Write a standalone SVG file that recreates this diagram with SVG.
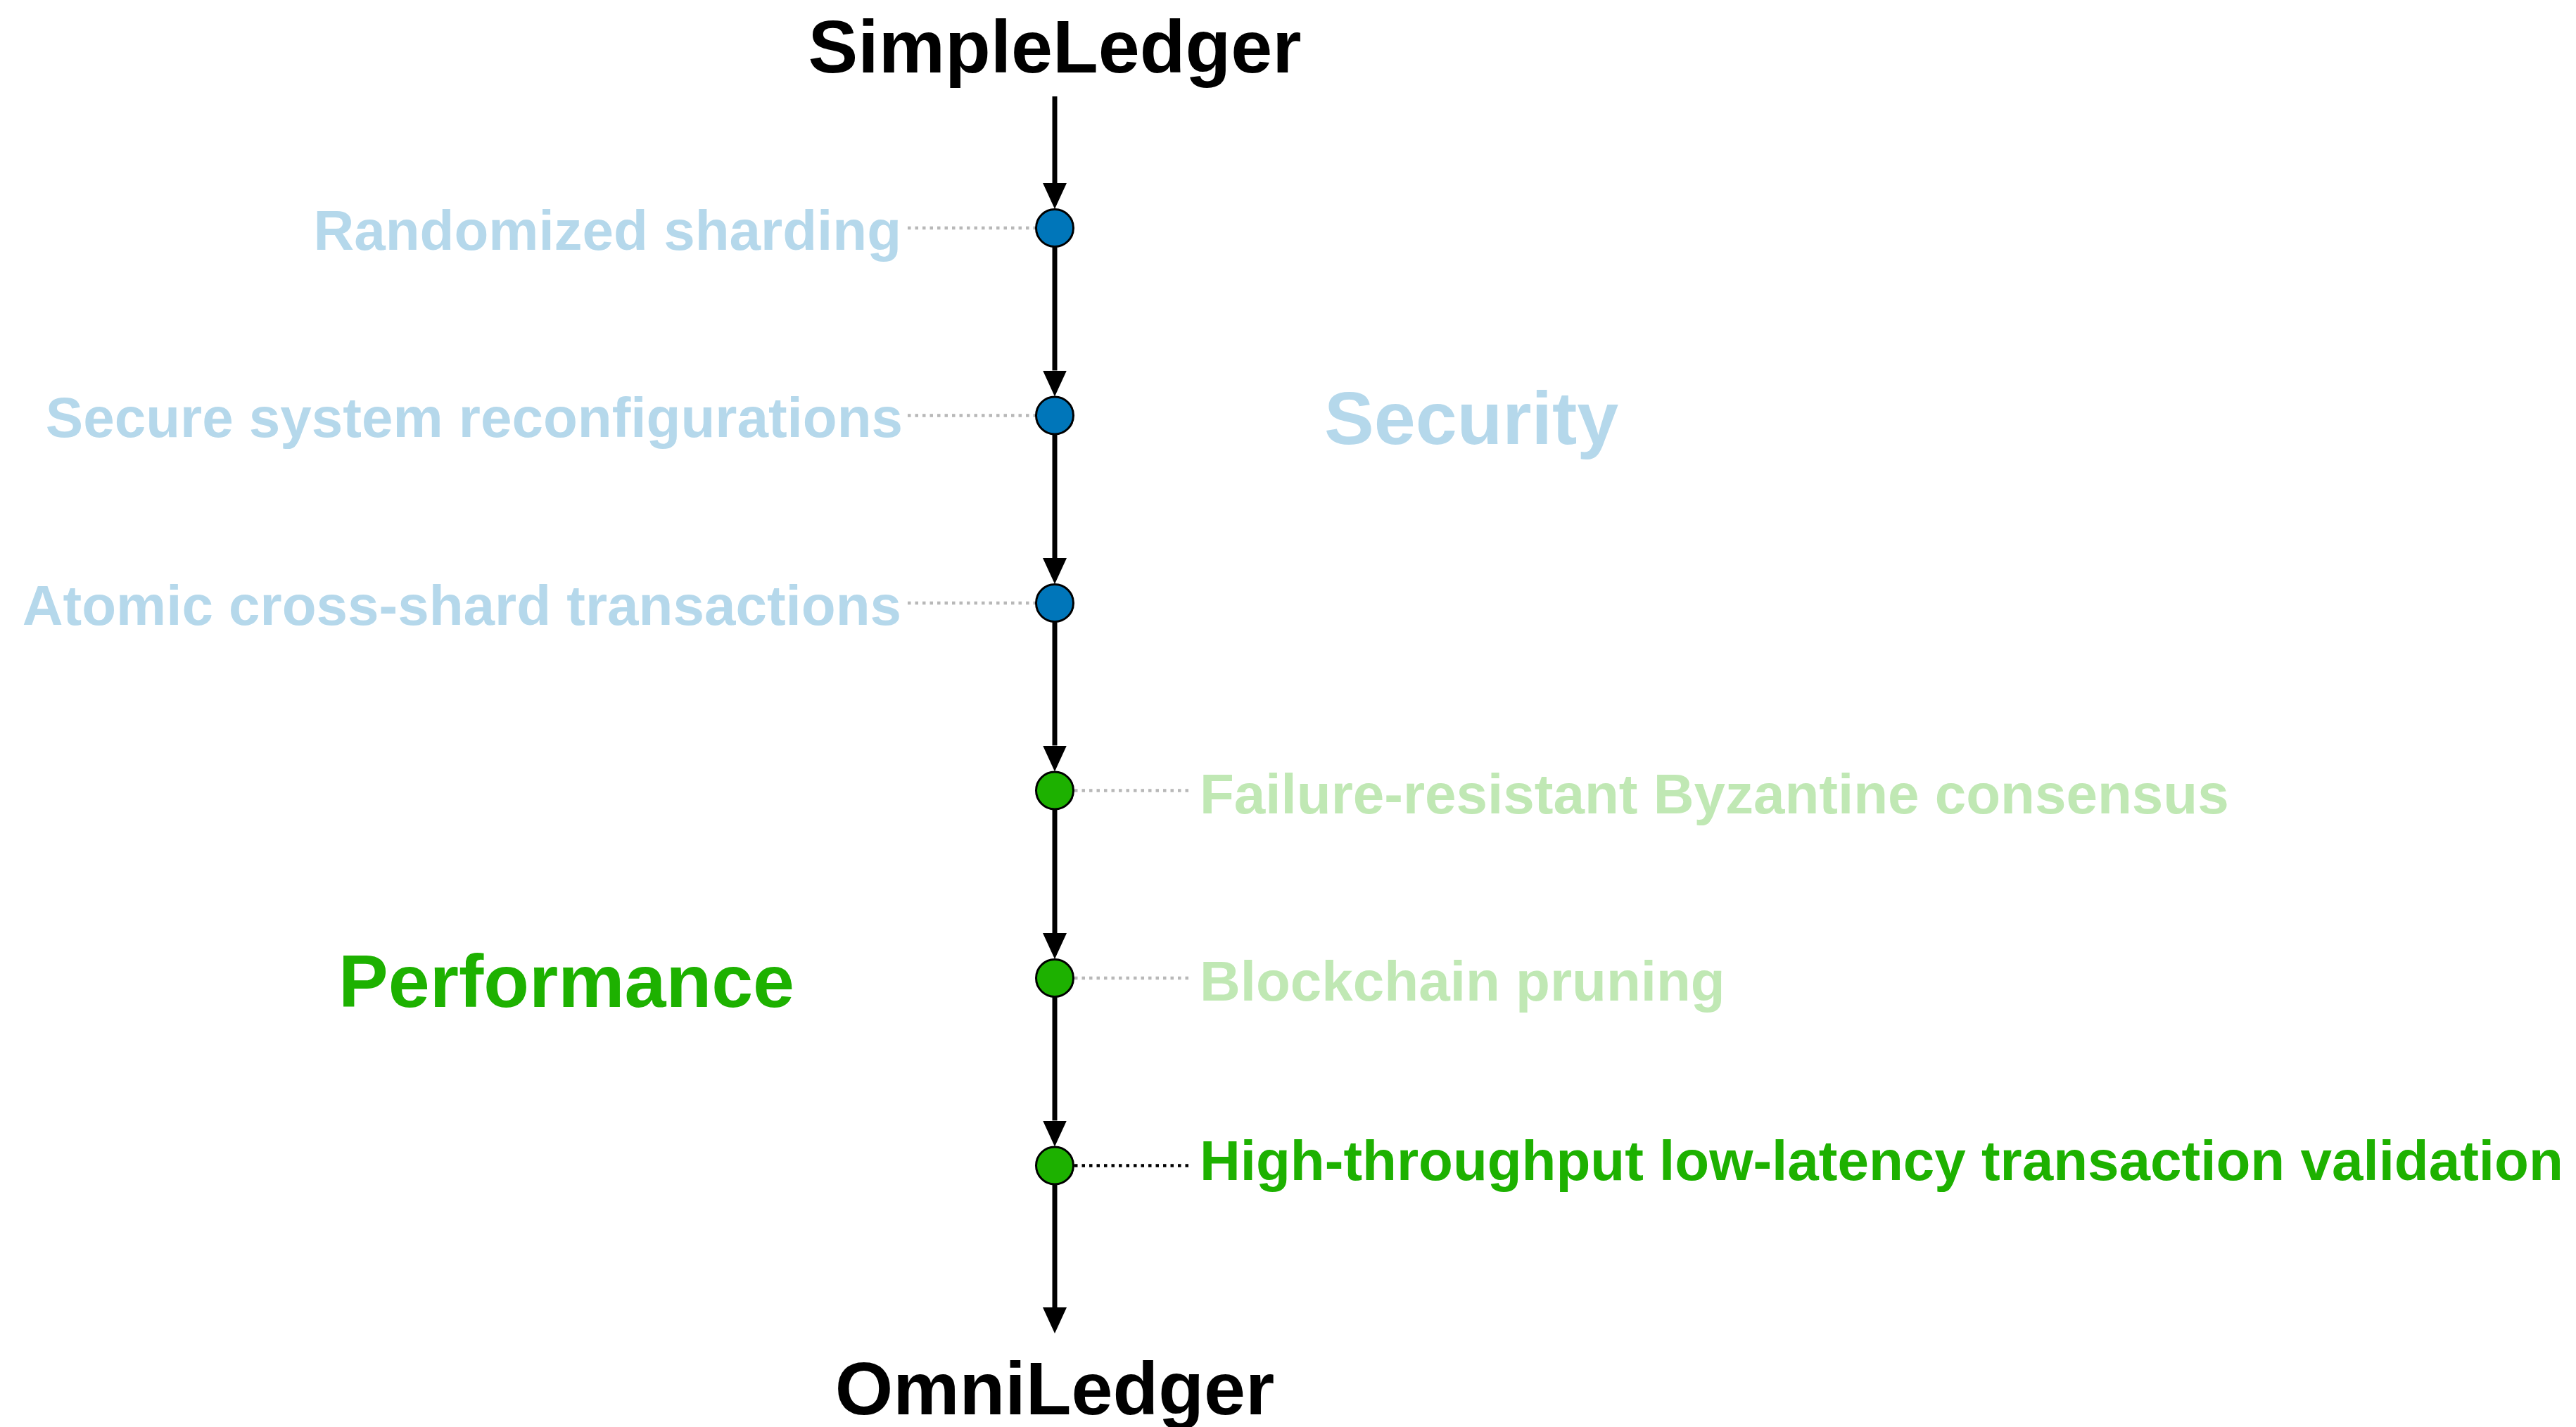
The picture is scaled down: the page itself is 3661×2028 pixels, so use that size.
<svg xmlns="http://www.w3.org/2000/svg" width="3661" height="2028" viewBox="0 0 3661 2028">
<style>
text{font-family:"Liberation Sans",Arial,Helvetica,sans-serif;font-weight:bold}
.title{font-size:106px;fill:#000;text-anchor:middle}
.lab{font-size:80px}
.sec{fill:#B5D8EB}
.perfl{fill:#C0E8B4}
.perf{fill:#1DB100}
.big{font-size:106px}
.flow{stroke:#000;stroke-width:7;fill:none}
.dot{stroke:#B8B8B8;stroke-width:4.5;stroke-dasharray:4.5 6;fill:none}
.dotk{stroke:#000;stroke-width:4.5;stroke-dasharray:4.5 6;fill:none}
.nb{fill:#0076BA;stroke:#000;stroke-width:3}
.ng{fill:#1DB100;stroke:#000;stroke-width:3}
</style>
<defs>
<marker id="ah" markerUnits="userSpaceOnUse" markerWidth="38" markerHeight="36" viewBox="0 0 38 36" refX="0" refY="18" orient="auto">
<path d="M0,1 L37,18 L0,35 z" fill="#000"/>
</marker>
</defs>
<rect width="3661" height="2028" fill="#fff"/>
<g id="connectors">
<line class="flow" x1="1499" y1="137" x2="1499" y2="260" marker-end="url(#ah)"/>
<line class="flow" x1="1499" y1="351" x2="1499" y2="526.5" marker-end="url(#ah)"/>
<line class="flow" x1="1499" y1="617.5" x2="1499" y2="793" marker-end="url(#ah)"/>
<line class="flow" x1="1499" y1="884" x2="1499" y2="1059.5" marker-end="url(#ah)"/>
<line class="flow" x1="1499" y1="1150.5" x2="1499" y2="1326" marker-end="url(#ah)"/>
<line class="flow" x1="1499" y1="1417" x2="1499" y2="1592.5" marker-end="url(#ah)"/>
<line class="flow" x1="1499" y1="1683.5" x2="1499" y2="1858" marker-end="url(#ah)"/>
<line class="dot" x1="1290" y1="324" x2="1472" y2="324"/>
<line class="dot" x1="1290" y1="590.5" x2="1472" y2="590.5"/>
<line class="dot" x1="1290" y1="857" x2="1472" y2="857"/>
<line class="dot" x1="1527" y1="1123.5" x2="1695" y2="1123.5"/>
<line class="dot" x1="1527" y1="1390" x2="1695" y2="1390"/>
<line class="dotk" x1="1527" y1="1656.5" x2="1695" y2="1656.5"/>
</g>
<g id="simpleledger"><text class="title" x="1499" y="103">SimpleLedger</text></g>
<g id="omniledger"><text class="title" x="1499" y="2010">OmniLedger</text></g>
<g id="randomized-sharding">
<circle class="nb" cx="1499" cy="324" r="26.5"/>
<text class="lab sec" x="1281" y="355" text-anchor="end">Randomized sharding</text>
</g>
<g id="secure-reconfig">
<circle class="nb" cx="1499" cy="590.5" r="26.5"/>
<text class="lab sec" x="1283" y="621" text-anchor="end">Secure system reconfigurations</text>
</g>
<g id="atomic-tx">
<circle class="nb" cx="1499" cy="857" r="26.5"/>
<text class="lab sec" x="1281" y="888" text-anchor="end">Atomic cross-shard transactions</text>
</g>
<g id="byzantine">
<circle class="ng" cx="1499" cy="1123.5" r="26.5"/>
<text class="lab perfl" x="1705" y="1156">Failure-resistant Byzantine consensus</text>
</g>
<g id="pruning">
<circle class="ng" cx="1499" cy="1390" r="26.5"/>
<text class="lab perfl" x="1705" y="1422">Blockchain pruning</text>
</g>
<g id="validation">
<circle class="ng" cx="1499" cy="1656.5" r="26.5"/>
<text class="lab perf" x="1705" y="1677">High-throughput low-latency transaction validation</text>
</g>
<g id="security-label"><text class="big sec" x="1882" y="631">Security</text></g>
<g id="performance-label"><text class="big perf" x="481" y="1431">Performance</text></g>
</svg>
